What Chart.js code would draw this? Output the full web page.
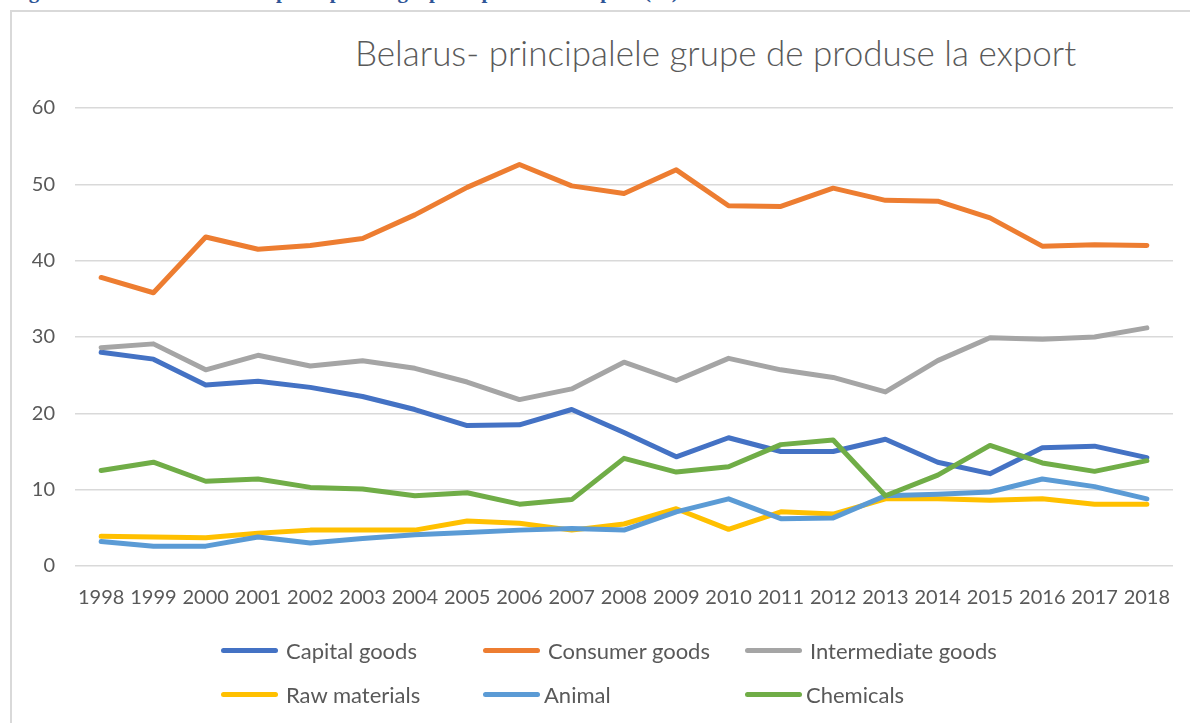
<!DOCTYPE html>
<html>
<head>
<meta charset="utf-8">
<script src="https://cdn.jsdelivr.net/npm/chart.js"></script>
<style>
    body { margin: 0; background: #fff; width: 1190px; height: 723px; overflow: hidden; position: relative; font-family: Lato, sans-serif; }
    #heading { position: absolute; left: 10px; top: -19px; font: bold 21px/21px "Liberation Serif", serif; color: #2f5597; white-space: nowrap; }
    #frame { position: absolute; left: 10px; top: 10px; width: 1300px; height: 900px; border: 2px solid #d9d9d9; }
    #title { position: absolute; left: 355px; top: 31px; font-size: 35px; font-weight: 300; color: #595959; white-space: nowrap; }
    #wrap { position: absolute; left: 0; top: 0; }
    #legend { position: absolute; left: 221px; top: 636px; display: grid; grid-template-columns: 262px 262px 262px; row-gap: 16px; }
    .item { display: flex; align-items: center; height: 28px; font-size: 22px; color: #595959; white-space: nowrap; }
    .item span.line { display: inline-block; width: 57px; height: 5px; border-radius: 3px; margin-right: 8px; }
    .item.tight span.line { margin-right: 4px; }
</style>
</head>
<body>
<div id="heading">Figura 2. Belarus – structura principalelor grupe de produse la export (%)</div>
<div id="frame"></div>
<div id="title">Belarus- principalele grupe de produse la export</div>
<div id="wrap"><canvas id="myChart" width="1190" height="640"></canvas></div>
<div id="legend"></div>
<script>
// years on the x axis
var years = ['1998', '1999', '2000', '2001', '2002', '2003', '2004', '2005', '2006', '2007',
             '2008', '2009', '2010', '2011', '2012', '2013', '2014', '2015', '2016', '2017', '2018'];

// shares (%)
var capitalGoods      = [28.0, 27.1, 23.7, 24.2, 23.4, 22.2, 20.5, 18.4, 18.5, 20.5, 17.5, 14.3, 16.8, 15.0, 15.0, 16.6, 13.6, 12.1, 15.5, 15.7, 14.2];
var consumerGoods     = [37.8, 35.8, 43.1, 41.5, 42.0, 42.9, 46.0, 49.6, 52.6, 49.8, 48.8, 51.9, 47.2, 47.1, 49.5, 47.9, 47.8, 45.6, 41.9, 42.1, 42.0];
var intermediateGoods = [28.6, 29.1, 25.7, 27.6, 26.2, 26.9, 25.9, 24.1, 21.8, 23.2, 26.7, 24.3, 27.2, 25.7, 24.7, 22.8, 26.9, 29.9, 29.7, 30.0, 31.2];
var rawMaterials      = [3.9, 3.8, 3.7, 4.3, 4.7, 4.7, 4.7, 5.9, 5.6, 4.7, 5.5, 7.5, 4.8, 7.1, 6.8, 8.8, 8.8, 8.6, 8.8, 8.1, 8.1];
var animal            = [3.2, 2.6, 2.6, 3.8, 3.0, 3.6, 4.1, 4.4, 4.7, 4.9, 4.7, 7.1, 8.8, 6.2, 6.3, 9.2, 9.4, 9.7, 11.4, 10.4, 8.8];
var chemicals         = [12.5, 13.6, 11.1, 11.4, 10.3, 10.1, 9.2, 9.6, 8.1, 8.7, 14.1, 12.3, 13.0, 15.9, 16.5, 9.2, 11.9, 15.8, 13.5, 12.4, 13.8];

var seriesNames  = ['Capital goods', 'Consumer goods', 'Intermediate goods', 'Raw materials', 'Animal', 'Chemicals'];
var seriesColors = ['#4472c4', '#ed7d31', '#a5a5a5', '#ffc000', '#5b9bd5', '#70ad47'];
var seriesData   = [capitalGoods, consumerGoods, intermediateGoods, rawMaterials, animal, chemicals];

var yTicks = [0, 10, 20, 30, 40, 50, 60];

var datasets = seriesNames.map(function(name, i) {
    return {
        label: name,
        data: seriesData[i],
        borderColor: seriesColors[i],
        backgroundColor: seriesColors[i],
        borderWidth: 5,
        borderCapStyle: 'round',
        borderJoinStyle: 'round',
        pointRadius: 0,
        tension: 0,
        fill: false,
        order: seriesNames.length - i   // later series on top, like Excel
    };
});

// build the legend as html, two rows of three columns
var htmlLegend = {
    id: 'htmlLegend',
    afterUpdate: function(chart) {
        var box = document.getElementById('legend');
        box.innerHTML = '';
        chart.data.datasets.forEach(function(ds, i) {
            var item = document.createElement('div');
            item.className = 'item' + (i >= 4 ? ' tight' : '');
            var line = document.createElement('span');
            line.className = 'line';
            line.style.background = ds.borderColor;
            item.appendChild(line);
            item.appendChild(document.createTextNode(ds.label));
            box.appendChild(item);
        });
    }
};

var ctx = document.getElementById('myChart').getContext('2d');
var chart = new Chart(ctx, {
    type: 'line',
    data: { labels: years, datasets: datasets },
    plugins: [htmlLegend],
    options: {
        responsive: false,
        animation: false,
        devicePixelRatio: 1,
        layout: { padding: { top: 108, right: 17, bottom: 14, left: 0 } },
        plugins: {
            legend: { display: false },
            title: { display: false },
            tooltip: { enabled: false }
        },
        scales: {
            x: {
                offset: true,
                grid: { display: false },
                border: { display: false },
                ticks: {
                    color: '#595959',
                    font: { family: 'Lato', size: 20 },
                    padding: 12,
                    maxRotation: 0,
                    autoSkip: false
                },
                afterFit: function(scale) { scale.height = 60; }
            },
            y: {
                min: 0,
                max: 60,
                afterBuildTicks: function(scale) {
                    scale.ticks = yTicks.map(function(v) { return { value: v }; });
                },
                grid: { color: '#d9d9d9', lineWidth: 1.5, drawTicks: false },
                border: { display: false },
                ticks: {
                    color: '#595959',
                    font: { family: 'Lato', size: 20 },
                    padding: 20
                },
                afterFit: function(scale) { scale.width = 75; }
            }
        }
    }
});
</script>
</body>
</html>
